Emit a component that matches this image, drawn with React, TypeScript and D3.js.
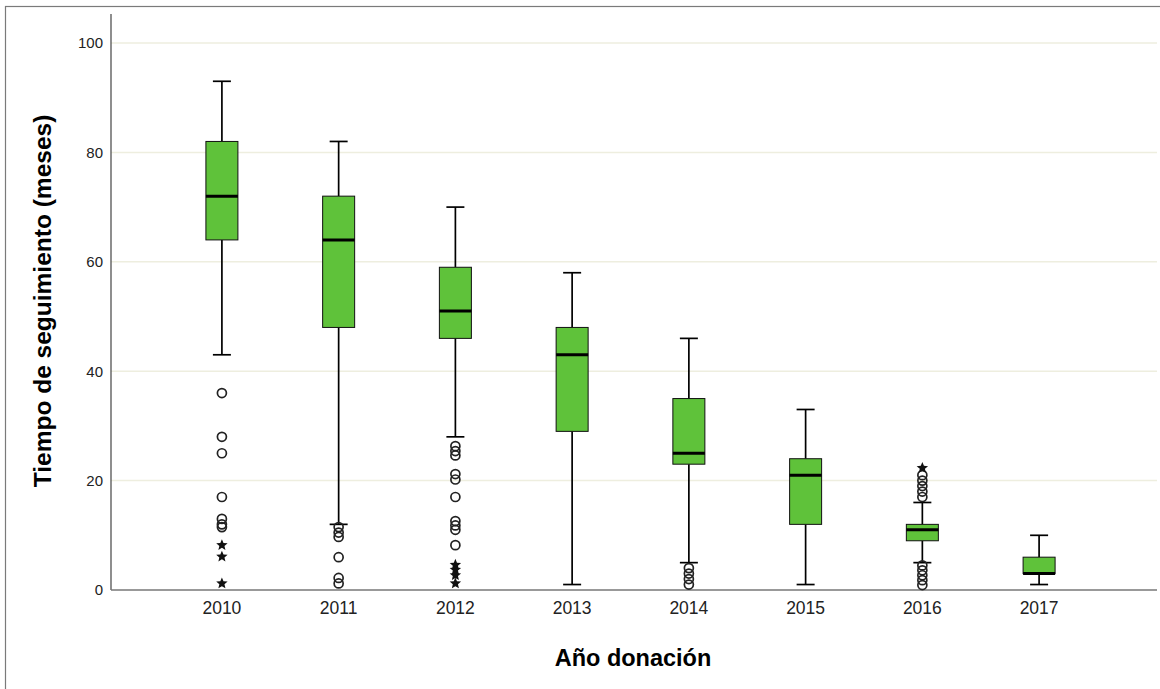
import React from "react";
import * as d3 from "d3";

const years = ["2010", "2011", "2012", "2013", "2014", "2015", "2016", "2017"];
const whiskerLow = [43, 12, 28, 1, 5, 1, 5, 1];
const q1 = [64, 48, 46, 29, 23, 12, 9, 3];
const median = [72, 64, 51, 43, 25, 21, 11, 3];
const q3 = [82, 72, 59, 48, 35, 24, 12, 6];
const whiskerHigh = [93, 82, 70, 58, 46, 33, 16, 10];
const circleOutliers: number[][] = [
  [36, 28, 25, 17, 13, 12, 11.5],
  [11.5, 10.5, 9.7, 6, 2.2, 1.2],
  [26.3, 25.4, 24.6, 21.2, 20.2, 17, 12.6, 11.8, 11, 8.2],
  [],
  [4, 3, 2, 1],
  [],
  [21, 20, 19, 18, 17, 4.5, 3.6, 2.7, 1.8, 0.9],
  [],
];
const starOutliers: number[][] = [
  [8.2, 6.1, 1.2],
  [],
  [4.6, 3.7, 2.7, 1.2],
  [],
  [],
  [],
  [22.3],
  [],
];
const yTicks = [0, 20, 40, 60, 80, 100];

const W = 1160;
const H = 689;
const left = 111;
const top = 14;
const bottom = 590;
const right = 1157;

function starPath(cx: number, cy: number, r: number) {
  const pts: string[] = [];
  for (let i = 0; i < 10; i++) {
    const rr = i % 2 === 0 ? r : r * 0.45;
    const a = -Math.PI / 2 + (i * Math.PI) / 5;
    pts.push(`${cx + rr * Math.cos(a)},${cy + rr * Math.sin(a)}`);
  }
  return "M" + pts.join("L") + "Z";
}

export default function App() {
  const x = d3.scalePoint<string>().domain(years).range([left, 1150]).padding(0.95);
  const y = d3.scaleLinear().domain([0, 105.3]).range([bottom, top]);
  const boxW = 32;
  const capW = 18;
  const green = "#5fc23a";
  const font = "'Liberation Sans', Arial, sans-serif";

  return (
    <svg width={W} height={H} style={{ position: "absolute", left: 0, top: 0, background: "#fff" }}>
      <rect x={5.5} y={6.5} width={W + 10} height={H + 10} fill="#fff" stroke="#7a7a7a" strokeWidth={1.2} />
      {yTicks.filter((t) => t > 0).map((t) => (
        <line key={"g" + t} x1={left} x2={right} y1={y(t)} y2={y(t)} stroke="#eeeedf" strokeWidth={1.5} />
      ))}
      {yTicks.map((t) => (
        <text key={"yt" + t} x={103} y={y(t)} dy="0.36em" textAnchor="end" fontFamily={font} fontSize={15} fill="#222">
          {t}
        </text>
      ))}
      <line x1={left} x2={left} y1={top} y2={bottom} stroke="#444" strokeWidth={1.2} />
      <line x1={left} x2={right} y1={bottom} y2={bottom} stroke="#777" strokeWidth={1.4} />
      {years.map((yr, i) => {
        const cx = x(yr)!;
        return (
          <g key={yr}>
            <line x1={cx} x2={cx} y1={y(whiskerLow[i])} y2={y(q1[i])} stroke="#000" strokeWidth={1.7} />
            <line x1={cx} x2={cx} y1={y(q3[i])} y2={y(whiskerHigh[i])} stroke="#000" strokeWidth={1.7} />
            <line x1={cx - capW / 2} x2={cx + capW / 2} y1={y(whiskerLow[i])} y2={y(whiskerLow[i])} stroke="#000" strokeWidth={1.7} />
            <line x1={cx - capW / 2} x2={cx + capW / 2} y1={y(whiskerHigh[i])} y2={y(whiskerHigh[i])} stroke="#000" strokeWidth={1.7} />
            <rect x={cx - boxW / 2} y={y(q3[i])} width={boxW} height={y(q1[i]) - y(q3[i])} fill={green} stroke="#111" strokeWidth={1} />
            <line x1={cx - boxW / 2} x2={cx + boxW / 2} y1={y(median[i])} y2={y(median[i])} stroke="#000" strokeWidth={3} />
            {circleOutliers[i].map((v, k) => (
              <circle key={"c" + k} cx={cx} cy={y(v)} r={4.5} fill="none" stroke="#222" strokeWidth={1.7} />
            ))}
            {starOutliers[i].map((v, k) => (
              <path key={"s" + k} d={starPath(cx, y(v), 6)} fill="#111" />
            ))}
            <text x={cx} y={614} textAnchor="middle" fontFamily={font} fontSize={17.5} fill="#222">
              {yr}
            </text>
          </g>
        );
      })}
      <text
        transform={`translate(51,${301}) rotate(-90)`}
        textAnchor="middle"
        fontFamily={font}
        fontWeight="bold"
        fontSize={24.5}
        fill="#000"
      >
        Tiempo de seguimiento (meses)
      </text>
      <text x={633} y={666} textAnchor="middle" fontFamily={font} fontWeight="bold" fontSize={23.5} fill="#000">
        Año donación
      </text>
    </svg>
  );
}
